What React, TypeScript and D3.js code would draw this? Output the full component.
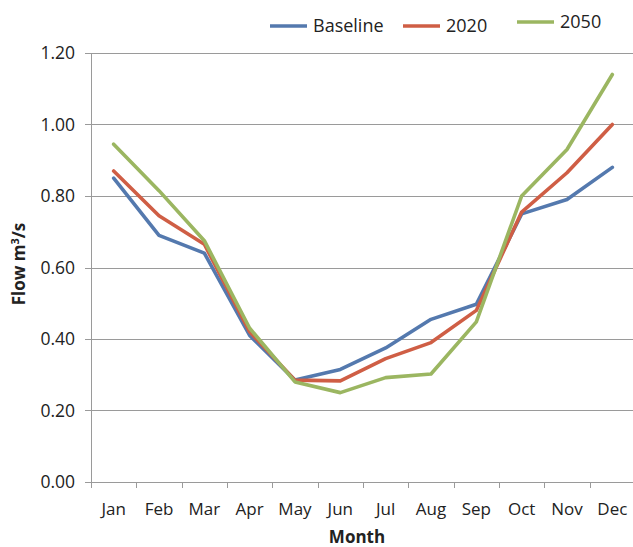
import React, { useEffect, useRef } from 'react';
import * as d3 from 'd3';

const months = ['Jan', 'Feb', 'Mar', 'Apr', 'May', 'Jun', 'Jul', 'Aug', 'Sep', 'Oct', 'Nov', 'Dec'];
const baseline = [0.85, 0.69, 0.64, 0.41, 0.285, 0.315, 0.375, 0.455, 0.497, 0.75, 0.79, 0.88];
const flow2020 = [0.87, 0.745, 0.665, 0.42, 0.285, 0.283, 0.345, 0.39, 0.48, 0.755, 0.865, 1.0];
const flow2050 = [0.945, 0.815, 0.675, 0.43, 0.28, 0.25, 0.292, 0.302, 0.448, 0.8, 0.93, 1.14];
const yTicks = [0, 0.2, 0.4, 0.6, 0.8, 1.0, 1.2];

const series = [
  { name: 'Baseline', values: baseline, color: '#5479ae' },
  { name: '2020', values: flow2020, color: '#cf5e45' },
  { name: '2050', values: flow2050, color: '#9bb661' },
];

const App: React.FC = () => {
  const svgRef = useRef<SVGSVGElement>(null);

  useEffect(() => {
    if (!svgRef.current) return;
    const svg = d3.select(svgRef.current);
    svg.selectAll('*').remove();

    const font = "'Open Sans', 'Noto Sans', sans-serif";
    const left = 91;
    const right = 635;
    const top = 53;
    const bottom = 482;

    const x = d3.scaleBand<string>().domain(months).range([left, right]);
    const y = d3.scaleLinear().domain([0, 1.2]).range([bottom, top]);

    svg.append('rect').attr('width', 633).attr('height', 547).attr('fill', '#fff');

    // gridlines
    svg.append('g')
      .selectAll('line')
      .data(yTicks.filter(t => t > 0))
      .enter()
      .append('line')
      .attr('x1', left - 6)
      .attr('x2', right)
      .attr('y1', d => Math.round(y(d)) + 0.5)
      .attr('y2', d => Math.round(y(d)) + 0.5)
      .attr('stroke', '#9a9a9a')
      .attr('stroke-width', 1);

    // y axis line
    svg.append('line')
      .attr('x1', left + 0.5).attr('x2', left + 0.5)
      .attr('y1', top).attr('y2', bottom)
      .attr('stroke', '#9a9a9a');

    // x axis
    svg.append('line')
      .attr('x1', left - 6).attr('x2', right)
      .attr('y1', Math.round(y(0)) + 0.5).attr('y2', Math.round(y(0)) + 0.5)
      .attr('stroke', '#9a9a9a');

    svg.append('g')
      .selectAll('line')
      .data(months)
      .enter()
      .append('line')
      .attr('x1', d => Math.round(x(d)!) + 0.5)
      .attr('x2', d => Math.round(x(d)!) + 0.5)
      .attr('y1', bottom)
      .attr('y2', bottom + 6)
      .attr('stroke', '#9a9a9a');

    // y tick labels
    svg.append('g')
      .selectAll('text')
      .data(yTicks)
      .enter()
      .append('text')
      .attr('x', 75)
      .attr('y', d => y(d))
      .attr('dy', '0.35em')
      .attr('text-anchor', 'end')
      .attr('font-family', font)
      .attr('font-size', 17.5)
      .attr('fill', '#222')
      .text(d => d.toFixed(2));

    // x tick labels
    svg.append('g')
      .selectAll('text')
      .data(months)
      .enter()
      .append('text')
      .attr('x', d => x(d)! + x.bandwidth() / 2)
      .attr('y', 515)
      .attr('text-anchor', 'middle')
      .attr('font-family', font)
      .attr('font-size', 17)
      .attr('fill', '#222')
      .text(d => d);

    // axis titles
    svg.append('text')
      .attr('x', 357)
      .attr('y', 543)
      .attr('text-anchor', 'middle')
      .attr('font-family', font)
      .attr('font-size', 17)
      .attr('font-weight', 'bold')
      .attr('fill', '#222')
      .text('Month');

    const yTitle = svg.append('text')
      .attr('transform', 'translate(25,264) rotate(-90)')
      .attr('text-anchor', 'middle')
      .attr('font-family', font)
      .attr('font-size', 17)
      .attr('font-weight', 'bold')
      .attr('fill', '#222');
    yTitle.append('tspan').text('Flow m');
    yTitle.append('tspan').attr('font-size', 11).attr('dy', -6).text('3');
    yTitle.append('tspan').attr('dy', 6).text('/s');

    // lines
    const line = d3.line<number>()
      .x((_, i) => x(months[i])! + x.bandwidth() / 2)
      .y(d => y(d));

    series.forEach(s => {
      svg.append('path')
        .datum(s.values)
        .attr('d', line)
        .attr('fill', 'none')
        .attr('stroke', s.color)
        .attr('stroke-width', 3.6)
        .attr('stroke-linejoin', 'round')
        .attr('stroke-linecap', 'round');
    });

    // legend
    const legendPos = [
      { lx: 270, ly: 26 },
      { lx: 403, ly: 26 },
      { lx: 517, ly: 22 },
    ];
    series.forEach((s, i) => {
      const p = legendPos[i];
      svg.append('line')
        .attr('x1', p.lx).attr('x2', p.lx + 37)
        .attr('y1', p.ly).attr('y2', p.ly)
        .attr('stroke', s.color)
        .attr('stroke-width', 3.6);
      svg.append('text')
        .attr('x', p.lx + 43)
        .attr('y', p.ly)
        .attr('dy', '0.35em')
        .attr('font-family', font)
        .attr('font-size', 18)
        .attr('fill', '#222')
        .text(s.name);
    });
  }, []);

  return (
    <svg
      ref={svgRef}
      width={633}
      height={547}
      style={{ display: 'block', position: 'fixed', top: 0, left: 0 }}
    />
  );
};

export default App;
